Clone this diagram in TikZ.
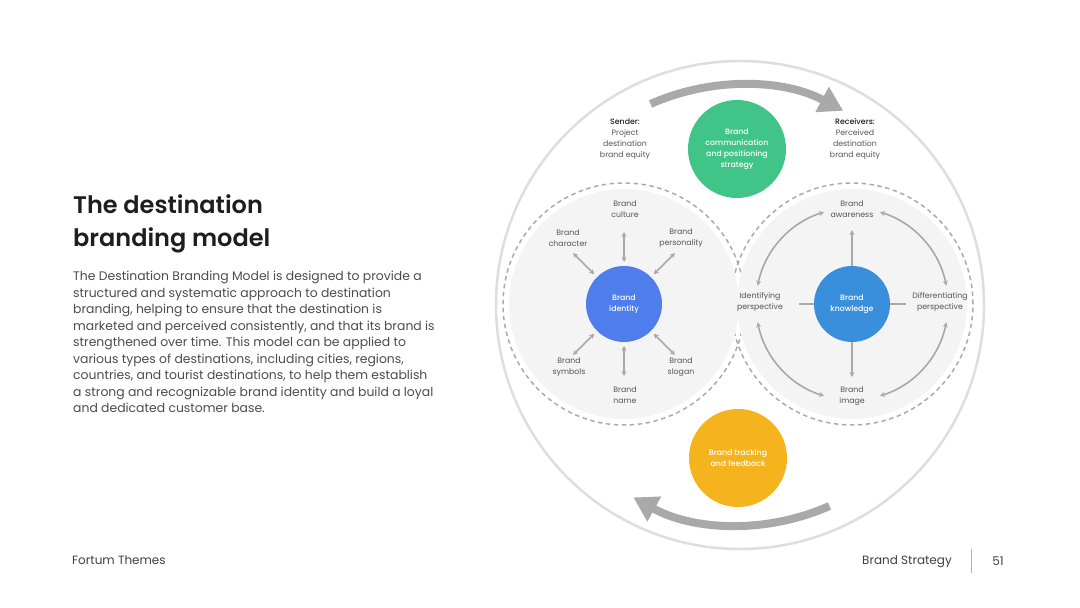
\documentclass[tikz,border=0pt]{standalone}
\usepackage{fontspec}
\setmainfont{Poppins}
\newfontfamily\medfont{Poppins}[UprightFont=* Medium]
\newfontfamily\semifont{Poppins}[UprightFont=* SemiBold]
\usetikzlibrary{arrows.meta}
\definecolor{ringgrey}{HTML}{DEDEDE}
\definecolor{dashgrey}{HTML}{ABABAB}
\definecolor{fillgrey}{HTML}{F4F4F4}
\definecolor{arrgrey}{HTML}{A8A8A8}
\definecolor{bigarr}{HTML}{A9A9A9}
\definecolor{cgreen}{HTML}{40C487}
\definecolor{cblue}{HTML}{4F7DEB}
\definecolor{cblue2}{HTML}{3A8FDC}
\definecolor{cyellow}{HTML}{F5B41E}
\definecolor{txtgrey}{HTML}{555555}
\definecolor{txtdark}{HTML}{1E1E1E}
\begin{document}
\begin{tikzpicture}[x=1pt,y=1pt,
  lbl/.style={align=center,font=\fontsize{7.8}{10.8}\selectfont,text=txtgrey,inner sep=0pt},
  inlbl/.style={align=center,font=\fontsize{7.8}{10.8}\selectfont\medfont,text=white,inner sep=0pt},
  disc/.style={circle,inner sep=0pt,minimum size=98pt},
  dbl/.style={draw=arrgrey,line width=1.6pt,{Stealth[length=5pt,width=5pt]}-{Stealth[length=5pt,width=5pt]}},
  sgl/.style={draw=arrgrey,line width=1.6pt,-{Stealth[length=5pt,width=5pt]}},
  plain/.style={draw=arrgrey,line width=1.6pt},
  bigarrow/.style={draw=bigarr,line width=8pt,-{Triangle[width=27pt,length=24pt]}},
  dashring/.style={draw=dashgrey,line width=1.5pt,dash pattern=on 4.5pt off 3.5pt},
  footer/.style={font=\fontsize{12}{14}\selectfont,text=txtdark!85,inner sep=0pt}
]
\useasboundingbox (0,0) rectangle (1080,608);
\fill[white] (0,0) rectangle (1080,608);

% outer ring
\node[circle,draw=ringgrey,line width=2.5pt,minimum size=488pt,inner sep=0pt] (outer) at (740,303) {};

% dashed rings then fills
\coordinate (lc) at (624,304);
\coordinate (rc) at (852,304);
\draw[dashring] (lc) circle[radius=121];
\draw[dashring] (rc) circle[radius=121];
\fill[fillgrey] (lc) circle[radius=115];
\fill[fillgrey] (rc) circle[radius=115];

% big arrows
\draw[bigarrow] ([shift={(114:220)}]outer.center) arc[start angle=114,end angle=62,radius=220];
\draw[bigarrow] ([shift={(-66:220)}]outer.center) arc[start angle=-66,end angle=-119,radius=220];

% discs
\node[disc,fill=cgreen] (comm) at (737,459) {};
\node[inlbl] at (comm.center) {Brand\\communication\\and positioning\\strategy};
\node[disc,fill=cyellow] (track) at (738,150) {};
\node[inlbl] at (track.center) {Brand tracking\\and feedback};
\node[circle,inner sep=0pt,minimum size=76pt,fill=cblue] (id) at (lc) {};
\node[inlbl] at (id.center) {Brand\\identity};
\node[circle,inner sep=0pt,minimum size=76pt,fill=cblue2] (kn) at (rc) {};
\node[inlbl] at (kn.center) {Brand\\knowledge};

% sender / receivers
\node[lbl] (sender) at (625,469) {\textcolor{txtdark}{\medfont Sender:}\\Project\\destination\\brand equity};
\node[lbl] (recv) at (855,469) {\textcolor{txtdark}{\medfont Receivers:}\\Perceived\\destination\\brand equity};

% left labels
\node[lbl] (culture) at (625,399) {Brand\\culture};
\node[lbl] (character) at (568,370) {Brand\\character};
\node[lbl] (personality) at (681,370) {Brand\\personality};
\node[lbl] (symbols) at (569,241) {Brand\\symbols};
\node[lbl] (slogan) at (681,241) {Brand\\slogan};
\node[lbl] (name) at (625,213) {Brand\\name};

\foreach \a in {90,135,45,225,315,270}{
  \draw[dbl] ([shift={(\a:42)}]id.center) -- ([shift={(\a:72)}]id.center);
}

% right labels
\node[lbl] (aware) at (852,399) {Brand\\awareness};
\node[lbl] (image) at (852,212) {Brand\\image};
\node[lbl] (ident) at (760,306) {Identifying\\perspective};
\node[lbl] (diff) at (940,306) {Differentiating\\perspective};

\draw[sgl] (kn.north) -- ([yshift=74]kn.center);
\draw[sgl] (kn.south) -- ([yshift=-73]kn.center);
\draw[plain] (kn.west) -- ([xshift=-53]kn.center);
\draw[plain] (kn.east) -- ([xshift=54]kn.center);
\draw[dbl] ([shift={(107:96)}]kn.center) arc[start angle=107,end angle=169,radius=96];
\draw[dbl] ([shift={(73:96)}]kn.center) arc[start angle=73,end angle=11,radius=96];
\draw[dbl] ([shift={(191:96)}]kn.center) arc[start angle=191,end angle=253,radius=96];
\draw[dbl] ([shift={(287:96)}]kn.center) arc[start angle=287,end angle=349,radius=96];

% left text
\node[anchor=north west,align=left,inner sep=0pt,text=txtdark,font=\fontsize{24}{33}\selectfont\semifont] (title) at (73,414)
  {The destination\\branding model};
\node[anchor=north west,align=left,inner sep=0pt,text=txtgrey!90!black,font=\fontsize{12.4}{16.5}\selectfont] (body) at (73,337)
  {The Destination Branding Model is designed to provide a\\
   structured and systematic approach to destination\\
   branding, helping to ensure that the destination is\\
   marketed and perceived consistently, and that its brand is\\
   strengthened over time. This model can be applied to\\
   various types of destinations, including cities, regions,\\
   countries, and tourist destinations, to help them establish\\
   a strong and recognizable brand identity and build a loyal\\
   and dedicated customer base.};

% footer
\node[footer,anchor=west] (ft) at (72,48) {Fortum Themes};
\node[footer,anchor=east] (bs) at (952,46) {Brand Strategy};
\coordinate (sepT) at (971,59);
\coordinate (sepB) at (971,35);
\draw[ringgrey!80!black,line width=1pt] (sepT) -- (sepB);
\node[footer] (pg) at (998,47) {51};
\end{tikzpicture}
\end{document}
